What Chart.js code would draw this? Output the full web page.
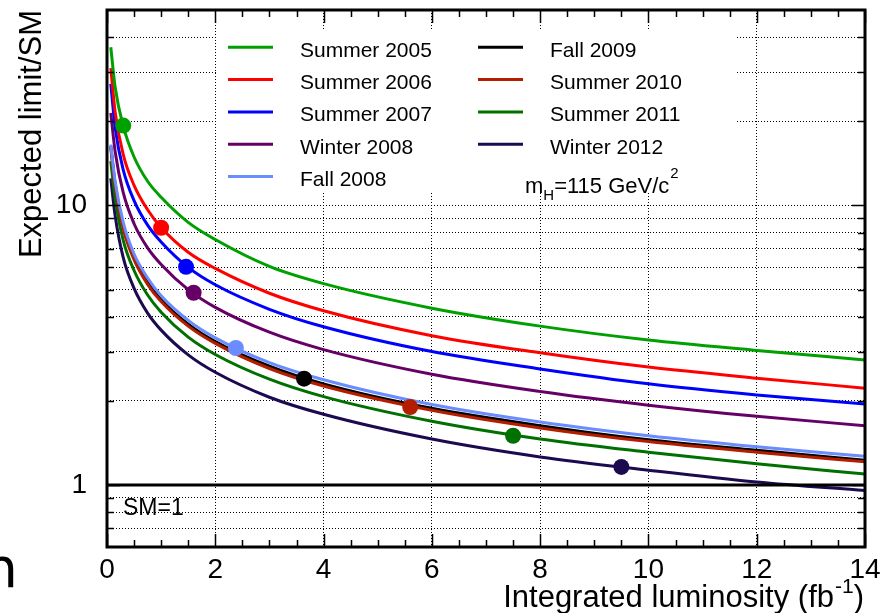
<!DOCTYPE html>
<html>
<head>
<meta charset="utf-8">
<script src="https://cdn.jsdelivr.net/npm/chart.js@4.4.1/dist/chart.umd.min.js"></script>
<style>
  body { margin: 0; background: #fff; }
  canvas { display: block; }
</style>
</head>
<body>
<canvas id="limits" width="892" height="613"></canvas>
<script>
var lumi = [0.07, 0.15, 0.3, 0.5, 0.75, 1, 1.5, 2, 3, 4, 6, 8, 10, 12, 14];

var summer2005 = [36.8, 26.5, 19.2, 14.9, 12.2, 10.7, 8.7, 7.55, 6.05, 5.25, 4.29, 3.7, 3.30, 3.03, 2.80];
var summer2006 = [31.0, 21.6, 15.2, 11.8, 9.65, 8.34, 6.8, 5.95, 4.85, 4.2, 3.42, 2.97, 2.64, 2.41, 2.22];
var summer2007 = [27.2, 19.0, 13.4, 10.4, 8.5, 7.4, 6.0, 5.2, 4.25, 3.68, 3.0, 2.6, 2.3, 2.1, 1.95];
var winter2008 = [21.4, 15.6, 11.1, 8.6, 7.05, 6.15, 5.0, 4.32, 3.52, 3.05, 2.49, 2.16, 1.93, 1.76, 1.63];
var fall2008   = [16.5, 12.2, 8.7, 6.7, 5.5, 4.75, 3.88, 3.36, 2.74, 2.38, 1.94, 1.68, 1.50, 1.37, 1.267];
var fall2009   = [16.3, 11.9, 8.4, 6.5, 5.3, 4.6, 3.76, 3.26, 2.66, 2.30, 1.88, 1.63, 1.45, 1.33, 1.225];
var summer2010 = [16.1, 11.7, 8.25, 6.4, 5.22, 4.53, 3.7, 3.21, 2.61, 2.26, 1.85, 1.60, 1.43, 1.31, 1.21];
var summer2011 = [14.4, 10.6, 7.5, 5.85, 4.78, 4.15, 3.38, 2.93, 2.39, 2.07, 1.69, 1.46, 1.31, 1.19, 1.095];
var winter2012 = [12.5, 9.2, 6.5, 5.05, 4.12, 3.58, 2.92, 2.53, 2.06, 1.79, 1.46, 1.26, 1.13, 1.025, 0.955];

// luminosity at which each projection was made
var markerX = [0.3, 1.0, 1.46, 1.6, 2.38, 3.64, 5.6, 7.5, 9.5];
var markerY = [19.3, 8.32, 6.03, 4.87, 3.09, 2.40, 1.90, 1.50, 1.16];

var labels = ['Summer 2005', 'Summer 2006', 'Summer 2007', 'Winter 2008', 'Fall 2008',
              'Fall 2009', 'Summer 2010', 'Summer 2011', 'Winter 2012'];
var colors = ['#00a000', '#ff0000', '#0000ff', '#660066', '#6a8cff',
              '#000000', '#b41e00', '#007000', '#1c0a50'];
var series = [summer2005, summer2006, summer2007, winter2008, fall2008,
              fall2009, summer2010, summer2011, winter2012];

var smX = [0, 14];
var smY = [1, 1];

var yTicks = [0.7, 0.8, 0.9, 1, 2, 3, 4, 5, 6, 7, 8, 9, 10, 20, 30, 40];
var yLabels = [1, 10];
var xMinorStep = 0.5;

var FONT = 'Liberation Sans';

var datasets = [];
datasets.push({
    type: 'scatter',
    data: markerX.map(function (x, i) { return { x: x, y: markerY[i] }; }),
    pointRadius: 8,
    pointBorderWidth: 0,
    pointBackgroundColor: colors,
    showLine: false,
    order: -1
});
datasets.push({
    data: smX.map(function (x, i) { return { x: x, y: smY[i] }; }),
    borderColor: '#000',
    borderWidth: 3,
    pointRadius: 0,
    order: 0
});
series.forEach(function (vals, k) {
    datasets.push({
        label: labels[k],
        isCurve: true,
        data: lumi.map(function (x, i) { return { x: x, y: vals[i] }; }),
        borderColor: colors[k],
        backgroundColor: colors[k],
        borderWidth: 3,
        pointRadius: 0,
        fill: false,
        cubicInterpolationMode: 'monotone',
        order: k === 5 ? 1 : 0   // black one sits under the brown one
    });
});

/* frame, inward ticks, legend and labels */
var decor = {
    id: 'decor',
    beforeDatasetsDraw: function (chart) {
        var ctx = chart.ctx;
        ctx.save();
        ctx.fillStyle = '#fff';
        ctx.fillRect(217, 30, 520, 162);
        ctx.restore();
    },
    afterDatasetsDraw: function (chart) {
        var ctx = chart.ctx;
        var a = chart.chartArea;
        var xs = chart.scales.x, ys = chart.scales.y;
        ctx.save();
        ctx.strokeStyle = '#000';

        // ticks
        ctx.lineWidth = 1.5;
        ctx.beginPath();
        for (var v = 0; v <= 14.001; v += xMinorStep) {
            var px = Math.round(xs.getPixelForValue(v)) + 0.5;
            var len = (Math.abs(v % 2) < 1e-6) ? 13 : 7;
            ctx.moveTo(px, a.bottom); ctx.lineTo(px, a.bottom - len);
            ctx.moveTo(px, a.top); ctx.lineTo(px, a.top + len);
        }
        yTicks.forEach(function (t) {
            var py = Math.round(ys.getPixelForValue(t)) + 0.5;
            var len = yLabels.indexOf(t) >= 0 ? 13 : 7;
            ctx.moveTo(a.left, py); ctx.lineTo(a.left + len, py);
            ctx.moveTo(a.right, py); ctx.lineTo(a.right - len, py);
        });
        ctx.stroke();

        // frame
        ctx.lineWidth = 3;
        ctx.strokeRect(a.left, a.top, a.right - a.left, a.bottom - a.top);

        // legend
        ctx.lineWidth = 3;
        ctx.font = '21px "' + FONT + '"';
        ctx.fillStyle = '#000';
        ctx.textBaseline = 'alphabetic';
        ctx.textAlign = 'left';
        var curves = chart.data.datasets.filter(function (d) { return d.isCurve; });
        curves.forEach(function (d, i) {
            var col = i < 5 ? 0 : 1;
            var row = i < 5 ? i : i - 5;
            var ly = 47.3 + row * 32.3;
            var lx = col === 0 ? 228 : 478;
            ctx.strokeStyle = d.borderColor;
            ctx.beginPath();
            ctx.moveTo(lx, ly); ctx.lineTo(lx + 45, ly);
            ctx.stroke();
            ctx.fillText(d.label, lx + 72, ly + 9.5);
        });

        // m_H label
        var x = 525;
        ctx.font = '22px "' + FONT + '"';
        ctx.fillText('m', x, 193); x += ctx.measureText('m').width;
        ctx.font = '15px "' + FONT + '"';
        ctx.fillText('H', x, 200); x += ctx.measureText('H').width;
        ctx.font = '22px "' + FONT + '"';
        ctx.fillText('=115 GeV/c', x, 193); x += ctx.measureText('=115 GeV/c').width;
        ctx.font = '15px "' + FONT + '"';
        ctx.fillText('2', x + 1, 178);

        // SM=1
        ctx.font = '23px "' + FONT + '"';
        ctx.fillText('SM=1', 123, 515);

        // x axis title with superscript
        var big = '31px "' + FONT + '"', small = '21px "' + FONT + '"';
        ctx.font = big;
        var w1 = ctx.measureText('Integrated luminosity (fb').width;
        var w3 = ctx.measureText(')').width;
        ctx.font = small;
        var w2 = ctx.measureText('-1').width;
        var start = 863 - (w1 + w2 + w3);
        ctx.font = big;
        ctx.fillText('Integrated luminosity (fb', start, 607);
        ctx.font = small;
        ctx.fillText('-1', start + w1 + 1, 593);
        ctx.font = big;
        ctx.fillText(')', start + w1 + w2 + 1, 607);

        // stray glyph at the lower left edge
        ctx.font = '55px "DejaVu Sans"';
        ctx.fillText('n', -17, 587);
        ctx.restore();
    }
};

var ctxLimits = document.getElementById('limits').getContext('2d');
var limitChart = new Chart(ctxLimits, {
    type: 'line',
    data: { datasets: datasets },
    options: {
        responsive: false,
        animation: false,
        devicePixelRatio: 1,
        layout: { padding: { left: 0, top: 10, right: 27, bottom: 0 } },
        plugins: {
            legend: { display: false },
            tooltip: { enabled: false }
        },
        scales: {
            x: {
                type: 'linear',
                min: 0,
                max: 14,
                ticks: {
                    stepSize: 2,
                    padding: 6,
                    autoSkip: false,
                    maxRotation: 0,
                    color: '#000',
                    font: { family: FONT, size: 28 }
                },
                grid: { color: '#000', lineWidth: 1, drawTicks: false },
                border: { display: false, dash: [1, 2] },
                afterFit: function (s) {
                    s.height = 66;
                    s.paddingLeft = 0;
                    s.paddingRight = 0;
                }
            },
            y: {
                type: 'logarithmic',
                min: 0.6,
                max: 50,
                afterBuildTicks: function (s) {
                    s.ticks = yTicks.map(function (v) { return { value: v }; });
                },
                ticks: {
                    autoSkip: false,
                    padding: 20,
                    color: '#000',
                    font: { family: FONT, size: 28 },
                    callback: function (v) { return yLabels.indexOf(v) >= 0 ? String(v) : ''; }
                },
                grid: { color: '#000', lineWidth: 1, drawTicks: false },
                border: { display: false, dash: [1, 2] },
                title: {
                    display: true,
                    text: 'Expected limit/SM',
                    align: 'end',
                    color: '#000',
                    font: { family: FONT, size: 31 },
                    padding: { top: 14, bottom: 0 }
                },
                afterFit: function (s) {
                    s.width = 107;
                    s.paddingTop = 0;
                    s.paddingBottom = 0;
                }
            }
        }
    },
    plugins: [decor]
});
</script>
</body>
</html>
